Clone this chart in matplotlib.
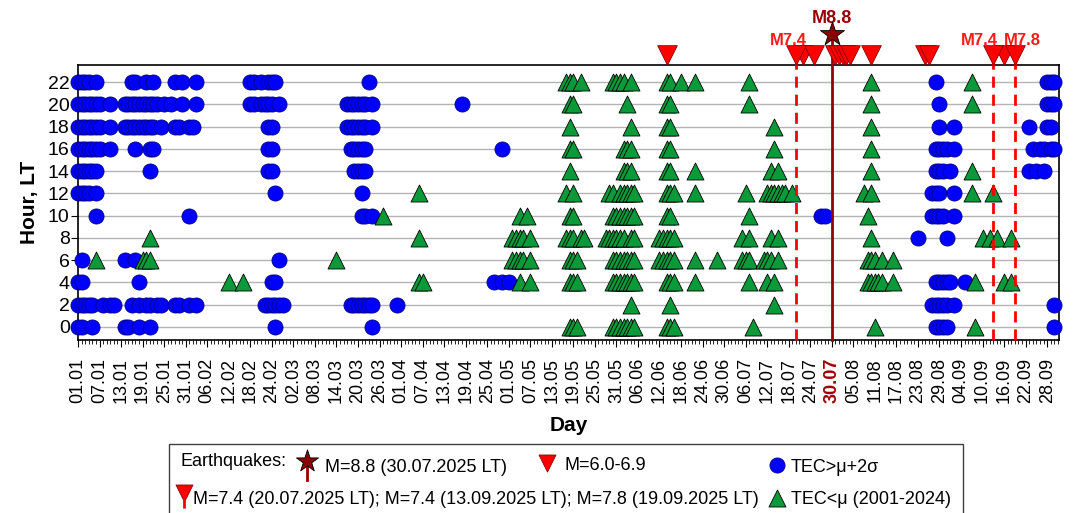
import matplotlib.pyplot as plt
import datetime

plt.rcParams['font.family'] = ['Liberation Sans', 'DejaVu Sans']

W, H = 1074, 513

# day of year 2025 where TEC > mu + 2 sigma, by hour LT
tec_high = {
    22: [1, 2, 3, 4, 6, 16, 17, 20, 22, 28, 30, 34, 49, 50, 52, 54, 55, 56, 82, 240, 271, 272, 273],
    20: [1, 2, 3, 4, 5, 6, 7, 10, 14, 15, 16, 17, 18, 19, 20, 21, 22, 23, 25, 27, 30, 34,
         49, 50, 52, 53, 54, 55, 57, 76, 77, 78, 79, 80, 81, 83, 108, 241, 271, 272, 273],
    18: [1, 2, 3, 4, 5, 6, 7, 10, 14, 15, 16, 17, 18, 19, 20, 21, 22, 24, 28, 29, 32, 33,
         54, 55, 76, 77, 78, 79, 80, 81, 83, 241, 245, 266, 271, 272],
    16: [1, 2, 3, 4, 5, 6, 7, 10, 17, 21, 22, 54, 55, 77, 78, 79, 80, 81, 119,
         240, 241, 242, 243, 245, 267, 269, 270, 272, 273],
    14: [1, 2, 3, 4, 5, 6, 21, 54, 55, 78, 79, 80, 81, 240, 241, 242, 244, 266, 268, 270],
    12: [1, 2, 3, 4, 6, 56, 80, 239, 240, 241, 245],
    10: [6, 32, 80, 81, 83, 208, 209, 239, 240, 241, 242, 245],
    8: [235, 243],
    6: [2, 14, 17, 57],
    4: [1, 2, 18, 55, 56, 117, 119, 121, 240, 241, 242, 243, 244, 248],
    2: [1, 2, 3, 4, 5, 8, 10, 11, 16, 18, 20, 21, 23, 24, 28, 29, 32, 34, 53, 54, 55, 56, 57, 58,
        77, 78, 79, 80, 81, 82, 83, 90, 239, 240, 241, 242, 243, 245, 273],
    0: [1, 2, 5, 14, 15, 18, 21, 56, 83, 240, 241, 242, 243, 273],
}

# day of year 2025 where TEC < mu (2001-2024), by hour LT
tec_low = {
    22: [137, 138, 139, 141, 150, 151, 152, 153, 155, 165, 166, 169, 173, 188, 222, 250],
    20: [138, 139, 154, 165, 166, 188, 222, 250],
    18: [138, 155, 165, 166, 195, 222],
    16: [138, 139, 153, 154, 155, 165, 166, 195, 222],
    14: [138, 153, 154, 155, 165, 166, 173, 194, 196, 222, 250],
    12: [96, 137, 139, 149, 150, 152, 153, 154, 155, 156, 165, 166, 167, 173, 187,
         193, 194, 195, 196, 197, 198, 200, 220, 222, 250, 256],
    10: [86, 124, 126, 138, 139, 150, 151, 152, 153, 154, 155, 156, 165, 166, 188, 221],
    8: [21, 96, 122, 123, 124, 125, 127, 137, 138, 139, 141, 142, 148, 149, 150, 151, 152, 153,
        155, 156, 163, 164, 165, 166, 167, 186, 188, 194, 196, 222, 253, 255, 257, 261],
    6: [6, 19, 20, 21, 73, 122, 123, 124, 125, 127, 138, 139, 140, 150, 151, 152, 153, 154, 155,
        156, 163, 164, 165, 166, 167, 173, 179, 186, 187, 188, 192, 193, 194, 196,
        221, 222, 223, 225, 228],
    4: [43, 47, 96, 97, 124, 127, 138, 139, 140, 150, 151, 152, 153, 154, 155, 156, 165, 166, 167,
        173, 188, 193, 195, 221, 222, 223, 224, 225, 228, 251, 259, 261],
    2: [155, 166, 195],
    0: [138, 139, 140, 150, 151, 152, 153, 154, 155, 156, 165, 166, 167, 189, 223, 251],
}

eq_minor_days = [165, 203, 206, 212, 213, 214, 215, 216, 222, 237, 238, 259]  # M=6.0-6.9
eq_major_days = [201, 256, 262]
eq_major_labels = ['M7.4', 'M7.4', 'M7.8']
eq_main_day = 211
eq_main_label = 'M8.8'

hours = list(range(0, 23, 2))
tick_days = list(range(1, 272, 6))
start = datetime.date(2025, 1, 1)
tick_labels = [(start + datetime.timedelta(days=d - 1)).strftime('%d.%m') for d in tick_days]

fig = plt.figure(figsize=(W / 100, H / 100), dpi=100)
ax = fig.add_axes([78 / W, 1 - 340 / H, (1059 - 78) / W, (340 - 65) / H])

y_bot, y_top = -1.17, 23.53
ax.set_xlim(1, 274.3)
ax.set_ylim(y_bot, y_top)

# grid lines
for h in hours:
    ax.axhline(h, color='#b4b4b4', lw=1.0, zorder=1)

for h in hours:
    days = tec_high[h]
    ax.scatter(days, [h] * len(days), s=118, marker='o', color='#0000ff',
               edgecolors='#00008b', linewidths=0.6, zorder=3, clip_on=False)
for h in hours:
    days = tec_low[h]
    ax.scatter(days, [h] * len(days), s=150, marker='^', color='#0a9a3a',
               edgecolors='black', linewidths=0.6, zorder=4, clip_on=False)

# earthquakes above the frame
y_tri = 24.43
ax.scatter(eq_minor_days, [y_tri] * len(eq_minor_days), s=200, marker='v', color='#ff0000',
           edgecolors='#8b0000', linewidths=0.6, zorder=6, clip_on=False)
label_shift = [-2.2, -4.0, 2.2]
for d, lab, sh in zip(eq_major_days, eq_major_labels, label_shift):
    ax.plot([d, d], [y_bot, y_tri], color='#ff0000', lw=2, ls=(0, (4, 2.5)), zorder=5, clip_on=False)
    ax.scatter([d], [y_tri], s=200, marker='v', color='#ff0000',
               edgecolors='#8b0000', linewidths=0.6, zorder=6, clip_on=False)
    ax.text(d + sh, 25.75, lab, color='#ff1a1a', fontsize=12, fontweight='bold',
            ha='center', va='center', clip_on=False)

ax.plot([eq_main_day, eq_main_day], [y_bot, 26.3], color='#990000', lw=2, zorder=5, clip_on=False)
ax.scatter([eq_main_day], [26.3], s=330, marker='*', color='#8b0000',
           edgecolors='black', linewidths=0.6, zorder=7, clip_on=False)
ax.text(eq_main_day, 27.7, eq_main_label, color='#990000', fontsize=13, fontweight='bold',
        ha='center', va='center', clip_on=False)

# axes styling
ax.set_yticks(hours)
ax.tick_params(axis='y', labelsize=14, length=5, direction='out', pad=1)
ax.set_xticks(tick_days)
ax.set_xticklabels(tick_labels, rotation=90)
ax.set_xticks(range(1, 275), minor=True)
ax.tick_params(axis='x', which='major', labelsize=13, length=5, pad=8)
ax.tick_params(axis='x', which='minor', length=3)
for t, d in zip(ax.get_xticklabels(), tick_days):
    if d == eq_main_day:
        t.set_color('#a00000')
        t.set_fontweight('bold')
ax.set_ylabel('Hour, LT', fontsize=15, fontweight='bold', labelpad=6)
ax.set_xlabel('Day', fontsize=15, fontweight='bold', labelpad=9)
for sp in ax.spines.values():
    sp.set_linewidth(1.2)

# legend drawn in pixel coordinates on an overlay
lg = fig.add_axes([0, 0, 1, 1], zorder=10)
lg.set_xlim(0, W)
lg.set_ylim(H, 0)
lg.axis('off')
lg.add_patch(plt.Rectangle((169, 444), 963 - 169, 80, fill=False, ec='#404040', lw=1, clip_on=False))
fs = 13
lg.text(180, 462, 'Earthquakes:', fontsize=fs, va='center', ha='left')
lg.plot([307, 307], [463, 480], color='#990000', lw=2)
lg.scatter([307], [461], s=280, marker='*', color='#8b0000', edgecolors='black', linewidths=0.6, zorder=3)
lg.text(325, 467, 'M=8.8 (30.07.2025 LT)', fontsize=fs, va='center', ha='left')
lg.scatter([547], [463], s=150, marker='v', color='#ff0000', edgecolors='#8b0000', linewidths=0.6)
lg.text(565, 465, 'M=6.0-6.9', fontsize=fs, va='center', ha='left')
lg.scatter([777], [465], s=118, marker='o', color='#0000ff', edgecolors='#00008b', linewidths=0.6)
lg.text(791, 467, 'TEC>μ+2σ', fontsize=fs, va='center', ha='left')
lg.plot([184, 184], [497, 515], color='#ff0000', lw=2, ls=(0, (4, 2.5)), clip_on=False)
lg.scatter([184], [493], s=150, marker='v', color='#ff0000', edgecolors='#8b0000', linewidths=0.6)
lg.text(193, 499, 'M=7.4 (20.07.2025 LT); M=7.4 (13.09.2025 LT); M=7.8 (19.09.2025 LT)',
        fontsize=fs, va='center', ha='left')
lg.scatter([777], [498], s=150, marker='^', color='#0a9a3a', edgecolors='black', linewidths=0.6)
lg.text(791, 500, 'TEC<μ (2001-2024)', fontsize=fs, va='center', ha='left')

fig.savefig('out.png', dpi=100)
